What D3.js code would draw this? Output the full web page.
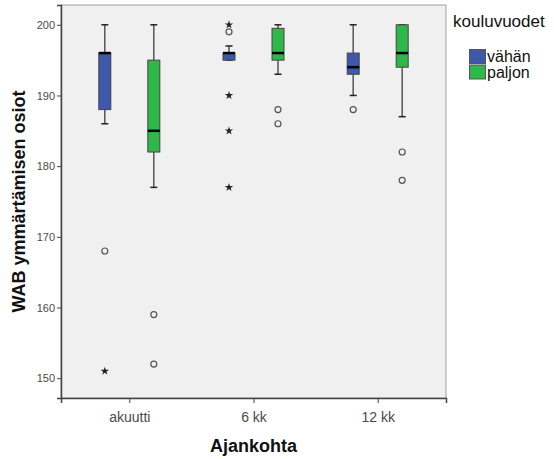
<!DOCTYPE html>
<html>
<head>
<meta charset="utf-8">
<script src="https://cdn.jsdelivr.net/npm/d3@7"></script>
<style>
  body { margin: 0; background: #fff; }
  text { font-family: "Liberation Sans", Arial, sans-serif; }
</style>
</head>
<body>
<svg id="chart" width="554" height="459"></svg>
<script>
// time points and groups
var groups = ["akuutti", "6 kk", "12 kk"];
var series = ["vähän", "paljon"];
var colors = ["#3e58ac", "#2fb84a"];
var yTicks = [150, 160, 170, 180, 190, 200];

// [low whisker, Q1, median, Q3, high whisker] per time point
var vahanStats = [[186, 188, 196, 196, 200], [195, 195, 196, 196, 197], [190, 193, 194, 196, 200]];
var paljonStats = [[177, 182, 185, 195, 200], [193, 195, 196, 199.5, 200], [187, 194, 196, 200, 200]];

// outliers (o = circle, * = extreme)
var vahanOutVals = [[168, 151], [200, 199, 190, 185, 177], [188]];
var vahanOutKind = [["o", "*"], ["*", "o", "*", "*", "*"], ["o"]];
var paljonOutVals = [[159, 152], [188, 186], [182, 178]];
var paljonOutKind = [["o", "o"], ["o", "o"], ["o", "o"]];

var svg = d3.select("#chart");
var pLeft = 61, pRight = 446, pTop = 5, pBottom = 398;

var x = d3.scalePoint().domain(groups).range([pLeft, pRight]).padding(0.55);
var xOff = d3.scalePoint().domain(series).range([-24.5, 24.5]);
var y = d3.scaleLinear().domain([147.2, 202.8]).range([pBottom, pTop]);

svg.append("rect")
	.attr("x", pLeft).attr("y", pTop)
	.attr("width", pRight - pLeft).attr("height", pBottom - pTop)
	.attr("fill", "#f0f0f0")
	.attr("stroke", "#a0a0a0");

// axes
var yAxis = svg.append("g")
	.attr("transform", "translate(" + pLeft + ",0)")
	.call(d3.axisLeft(y).tickValues(yTicks).tickSize(4).tickPadding(2));
var xAxis = svg.append("g")
	.attr("transform", "translate(0," + pBottom + ")")
	.call(d3.axisBottom(x).tickSize(5).tickPadding(9));
[yAxis, xAxis].forEach(function(a) {
	a.select(".domain").attr("stroke", "#444").attr("stroke-width", 1.5);
	a.selectAll(".tick line").attr("stroke", "#444");
	a.selectAll(".tick text").attr("fill", "#4a4a4a")
		.style("font-family", "'Liberation Sans', Arial, sans-serif");
});
yAxis.selectAll(".tick text").attr("font-size", 11);
xAxis.selectAll(".tick text").attr("font-size", 14);

var allStats = [vahanStats, paljonStats];
var allOutVals = [vahanOutVals, paljonOutVals];
var allOutKind = [vahanOutKind, paljonOutKind];
var boxW = 12, capW = 7;

series.forEach(function(s, si) {
	groups.forEach(function(g, gi) {
		var st = allStats[si][gi];
		var cx = x(g) + xOff(s);
		var gBox = svg.append("g");
		// whiskers
		gBox.append("line")
			.attr("x1", cx).attr("x2", cx)
			.attr("y1", y(st[4])).attr("y2", y(st[3]))
			.attr("stroke", "#555").attr("stroke-width", 1.5);
		gBox.append("line")
			.attr("x1", cx).attr("x2", cx)
			.attr("y1", y(st[1])).attr("y2", y(st[0]))
			.attr("stroke", "#555").attr("stroke-width", 1.5);
		[st[0], st[4]].forEach(function(v) {
			gBox.append("line")
				.attr("x1", cx - capW / 2).attr("x2", cx + capW / 2)
				.attr("y1", y(v)).attr("y2", y(v))
				.attr("stroke", "#222").attr("stroke-width", 1.5);
		});
		gBox.append("rect")
			.attr("x", cx - boxW / 2).attr("y", y(st[3]))
			.attr("width", boxW).attr("height", y(st[1]) - y(st[3]))
			.attr("fill", colors[si])
			.attr("stroke", "#444").attr("stroke-width", 1);
		gBox.append("line")
			.attr("x1", cx - boxW / 2).attr("x2", cx + boxW / 2)
			.attr("y1", y(st[2])).attr("y2", y(st[2]))
			.attr("stroke", "#000").attr("stroke-width", 2.5);

		// outliers
		allOutVals[si][gi].forEach(function(v, k) {
			if (allOutKind[si][gi][k] === "o") {
				gBox.append("circle")
					.attr("cx", cx).attr("cy", y(v)).attr("r", 3)
					.attr("fill", "none").attr("stroke", "#555").attr("stroke-width", 1.2);
			} else {
				gBox.append("path")
					.attr("transform", "translate(" + cx + "," + y(v) + ")")
					.attr("d", d3.symbol().type(d3.symbolStar).size(22)())
					.attr("fill", "#222");
			}
		});
	});
});

// axis titles
svg.append("text")
	.attr("transform", "translate(25," + ((pTop + pBottom) / 2) + ") rotate(-90)")
	.attr("text-anchor", "middle")
	.attr("font-size", 18).attr("font-weight", "bold").attr("fill", "#111")
	.text("WAB ymmärtämisen osiot");
svg.append("text")
	.attr("x", (pLeft + pRight) / 2).attr("y", 452)
	.attr("text-anchor", "middle")
	.attr("font-size", 18).attr("font-weight", "bold").attr("fill", "#111")
	.text("Ajankohta");

// legend
svg.append("text")
	.attr("x", 453).attr("y", 27)
	.attr("font-size", 17).attr("fill", "#111")
	.text("kouluvuodet");
series.forEach(function(s, i) {
	svg.append("rect")
		.attr("x", 469.5).attr("y", 49.5 + i * 15.5)
		.attr("width", 16).attr("height", 14)
		.attr("fill", colors[i]).attr("stroke", "#555");
	svg.append("text")
		.attr("x", 487).attr("y", 62 + i * 15.5)
		.attr("font-size", 16).attr("fill", "#111")
		.text(s);
});
</script>
</body>
</html>
